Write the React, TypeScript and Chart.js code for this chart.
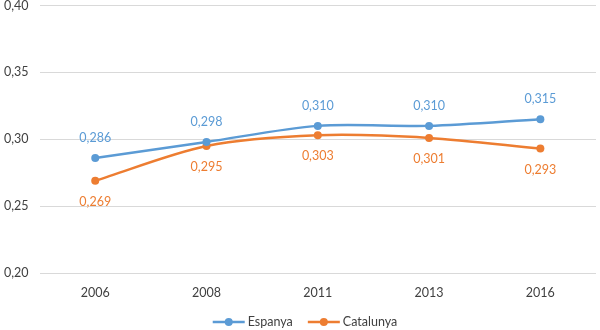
import React, { useEffect, useRef } from "react";
import { Chart, registerables } from "chart.js";

Chart.register(...registerables);

const categories = ["2006", "2008", "2011", "2013", "2016"];
const espanya = [0.286, 0.298, 0.31, 0.31, 0.315];
const catalunya = [0.269, 0.295, 0.303, 0.301, 0.293];
const seriesNames = ["Espanya", "Catalunya"];
const colors = ["#5B9BD5", "#ED7D31"];

const fmt = (v: number, d: number) => v.toFixed(d).replace(".", ",");

const labelPlugin = {
  id: "labels",
  afterDatasetsDraw(chart: any) {
    const ctx = chart.ctx;
    ctx.save();
    ctx.font = "12.5px Lato";
    ctx.textAlign = "center";
    ctx.textBaseline = "middle";
    chart.data.datasets.forEach((ds: any, i: number) => {
      const meta = chart.getDatasetMeta(i);
      ctx.fillStyle = colors[i];
      meta.data.forEach((pt: any, j: number) => {
        const off = i === 0 ? -20 : 21;
        ctx.fillText(fmt(ds.data[j], 3), pt.x, pt.y + off);
      });
    });
    ctx.restore();
  },
};

const legendPlugin = {
  id: "customLegend",
  afterDraw(chart: any) {
    const ctx = chart.ctx;
    ctx.save();
    ctx.font = "12.5px Lato";
    ctx.textBaseline = "middle";
    ctx.textAlign = "left";
    const y = 335;
    const lineW = 32;
    const gap = 3;
    const itemGap = 15;
    const widths = seriesNames.map((n) => lineW + gap + ctx.measureText(n).width);
    const total = widths.reduce((a, b) => a + b, 0) + itemGap * (seriesNames.length - 1);
    let x = (chart.width - total) / 2 + 5;
    seriesNames.forEach((n, i) => {
      ctx.strokeStyle = colors[i];
      ctx.lineWidth = 2.5;
      ctx.beginPath();
      ctx.moveTo(x, y);
      ctx.lineTo(x + lineW, y);
      ctx.stroke();
      ctx.fillStyle = colors[i];
      ctx.beginPath();
      ctx.arc(x + lineW / 2, y, 4, 0, Math.PI * 2);
      ctx.fill();
      ctx.fillStyle = "#404040";
      ctx.fillText(n, x + lineW + gap, y);
      x += widths[i] + itemGap;
    });
    ctx.restore();
  },
};

export default function App() {
  const ref = useRef<HTMLCanvasElement>(null);
  useEffect(() => {
    if (!ref.current) return;
    const chart = new Chart(ref.current, {
      type: "line",
      data: {
        labels: categories,
        datasets: [
          {
            label: seriesNames[0],
            data: espanya,
            borderColor: colors[0],
            backgroundColor: colors[0],
            borderWidth: 2.5,
            pointRadius: 4,
            pointBackgroundColor: colors[0],
            pointBorderWidth: 0,
            tension: 0.3,
          },
          {
            label: seriesNames[1],
            data: catalunya,
            borderColor: colors[1],
            backgroundColor: colors[1],
            borderWidth: 2.5,
            pointRadius: 4,
            pointBackgroundColor: colors[1],
            pointBorderWidth: 0,
            tension: 0.3,
          },
        ],
      },
      options: {
        animation: false,
        responsive: false,
        layout: { padding: { top: 0, bottom: 26, left: -7, right: 2 } },
        plugins: { legend: { display: false }, tooltip: { enabled: false } },
        scales: {
          x: {
            offset: true,
            grid: { display: false },
            border: { display: false },
            ticks: { font: { family: "Lato", size: 12.5 }, color: "#404040", padding: 4 },
          },
          y: {
            min: 0.2,
            max: 0.4,
            ticks: {
              stepSize: 0.05,
              font: { family: "Lato", size: 12.5 },
              color: "#404040",
              padding: 11,
              callback: (v: any) => fmt(Number(v), 2),
            },
            grid: { color: "#D9D9D9", lineWidth: 1, drawTicks: false },
            border: { display: false },
          },
        },
      },
      plugins: [labelPlugin, legendPlugin],
    });
    return () => chart.destroy();
  }, []);
  return (
    <div style={{ position: "absolute", left: 0, top: -13, width: 600, height: 343 }}>
      <canvas ref={ref} width={600} height={343} style={{ width: 600, height: 343 }} />
    </div>
  );
}
